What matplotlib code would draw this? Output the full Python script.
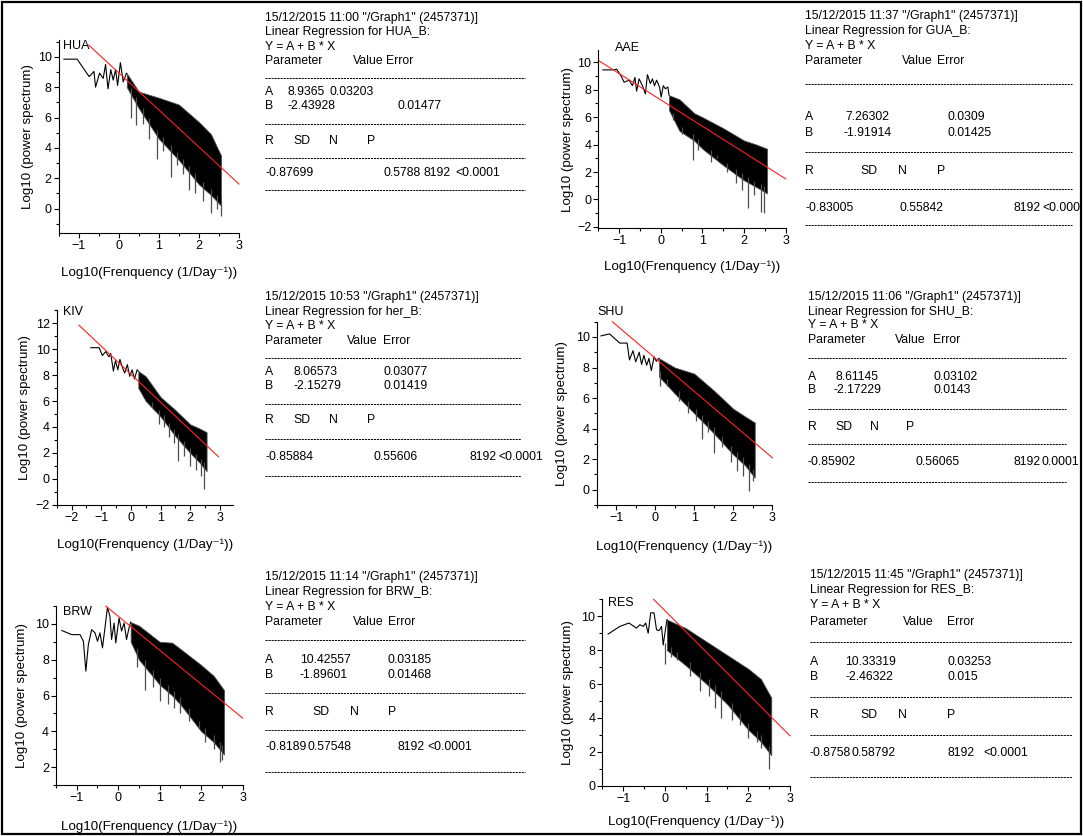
import matplotlib
matplotlib.use("Agg")
import matplotlib.pyplot as plt
import numpy as np
from matplotlib.patches import Rectangle
from matplotlib.lines import Line2D
from matplotlib.ticker import MultipleLocator

plt.rcParams["font.family"] = ["Liberation Sans", "DejaVu Sans"]

W, H = 1083, 836

# ── Data ──────────────────────────────────────────────────────────────────────
NAMES = ["HUA", "AAE", "KIV", "SHU", "BRW", "RES"]
REG_NAMES = ["HUA_B", "GUA_B", "her_B", "SHU_B", "BRW_B", "RES_B"]
TIMES = ["11:00", "11:37", "10:53", "11:06", "11:14", "11:45"]

A_VAL = ["8.9365", "7.26302", "8.06573", "8.61145", "10.42557", "10.33319"]
A_ERR = ["0.03203", "0.0309", "0.03077", "0.03102", "0.03185", "0.03253"]
B_VAL = ["-2.43928", "-1.91914", "-2.15279", "-2.17229", "-1.89601", "-2.46322"]
B_ERR = ["0.01477", "0.01425", "0.01419", "0.0143", "0.01468", "0.015"]
R_VAL = ["-0.87699", "-0.83005", "-0.85884", "-0.85902", "-0.8189", "-0.8758"]
SD_VAL = ["0.5788", "0.55842", "0.55606", "0.56065", "0.57548", "0.58792"]
N_VAL = ["8192", "8192", "8192", "8192", "8192", "8192"]
P_VAL = ["<0.0001", "<0.0001", "<0.0001", "0.0001", "<0.0001", "<0.0001"]

# x range covered by the red fit line
FIT_X0 = [-0.75, -1.5, -1.75, -1.1, -0.3, -0.27]
FIT_X1 = [3.0, 3.0, 2.95, 3.0, 3.0, 3.0]

# sparse low-frequency part of each spectrum
HUA_LX = [-1.37, -1.04, -0.74, -0.62, -0.58, -0.48, -0.39, -0.33, -0.27, -0.2, -0.14, -0.08, -0.03, 0.04, 0.11, 0.19]
HUA_LY = [9.84, 9.84, 8.69, 9.03, 8.0, 8.92, 8.57, 9.49, 7.89, 9.15, 8.46, 9.15, 8.11, 9.61, 8.34, 8.92]
AAE_LX = [-1.39, -1.12, -1.06, -0.96, -0.88, -0.76, -0.68, -0.62, -0.58, -0.52, -0.44, -0.37, -0.32, -0.25, -0.2, -0.15, -0.1, -0.03, 0.01, 0.06, 0.11, 0.17]
AAE_LY = [9.45, 9.45, 9.5, 9.05, 8.55, 8.7, 8.3, 8.9, 7.9, 8.8, 8.3, 7.7, 9.1, 8.45, 8.8, 8.3, 8.7, 8.2, 7.47, 8.3, 8.07, 8.2]
KIV_LX = [-1.35, -1.07, -0.96, -0.85, -0.74, -0.68, -0.59, -0.52, -0.44, -0.37, -0.29, -0.21, -0.12, -0.04, 0.04, 0.12, 0.21]
KIV_LY = [10.1, 10.1, 9.5, 9.8, 9.4, 9.65, 8.3, 9.1, 8.4, 9.2, 8.6, 8.15, 8.8, 7.9, 8.4, 7.7, 8.4]
SHU_LX = [-1.39, -1.17, -0.91, -0.72, -0.66, -0.57, -0.5, -0.41, -0.35, -0.29, -0.22, -0.16, -0.1, -0.03, 0.03, 0.09]
SHU_LY = [10.07, 10.2, 9.6, 9.6, 8.5, 9.1, 8.37, 9.0, 8.2, 8.8, 8.15, 8.6, 7.8, 8.7, 8.4, 8.6]
BRW_LX = [-1.36, -1.12, -0.92, -0.84, -0.78, -0.72, -0.64, -0.56, -0.5, -0.44, -0.38, -0.32, -0.26, -0.2, -0.16, -0.1, -0.06, 0.02, 0.08, 0.14, 0.2, 0.26]
BRW_LY = [9.63, 9.4, 9.4, 9.03, 7.36, 8.85, 9.68, 9.5, 9.03, 9.5, 8.66, 9.78, 10.93, 10.43, 9.13, 10.05, 8.94, 10.33, 9.6, 10.05, 9.13, 9.78]
RES_LX = [-1.36, -1.08, -0.86, -0.68, -0.6, -0.52, -0.46, -0.4, -0.34, -0.26, -0.2, -0.14, -0.08, -0.04, 0.02]
RES_LY = [8.95, 9.4, 9.6, 9.3, 9.5, 9.4, 9.6, 9.0, 10.2, 10.2, 9.2, 9.15, 9.4, 8.3, 9.3]

# dense high-frequency part: upper / lower edge of the black band
HUA_BX = [0.2, 0.5, 1.0, 1.5, 2.0, 2.3, 2.55]
HUA_HI = [8.9, 7.7, 7.3, 6.85, 5.7, 4.9, 3.5]
HUA_LO = [8.0, 6.6, 4.6, 3.2, 1.6, 0.9, 0.2]
AAE_BX = [0.2, 0.45, 0.8, 1.0, 1.5, 2.0, 2.3, 2.55]
AAE_HI = [7.6, 7.3, 6.3, 6.0, 5.2, 4.3, 4.0, 3.7]
AAE_LO = [6.5, 5.0, 4.3, 3.7, 2.5, 1.4, 0.9, 0.45]
KIV_BX = [0.25, 0.5, 1.0, 1.5, 2.0, 2.3, 2.55]
KIV_HI = [8.3, 7.9, 6.3, 5.3, 4.2, 3.9, 3.6]
KIV_LO = [7.0, 6.0, 4.8, 3.3, 2.0, 1.3, 0.6]
SHU_BX = [0.1, 0.5, 1.0, 1.5, 2.0, 2.3, 2.55]
SHU_HI = [8.6, 8.0, 7.6, 6.5, 5.3, 4.8, 4.4]
SHU_LO = [7.4, 6.3, 5.0, 3.7, 2.3, 1.6, 0.8]
BRW_BX = [0.3, 0.5, 1.0, 1.3, 1.5, 2.0, 2.3, 2.55]
BRW_HI = [10.1, 9.9, 9.0, 8.95, 8.6, 7.7, 7.1, 6.3]
BRW_LO = [9.0, 8.0, 6.6, 6.0, 5.5, 4.0, 3.4, 2.7]
RES_BX = [0.05, 0.5, 1.0, 1.5, 2.0, 2.3, 2.55]
RES_HI = [9.8, 9.3, 8.5, 7.7, 6.9, 6.3, 5.2]
RES_LO = [8.0, 7.1, 6.0, 4.8, 3.3, 2.6, 1.8]

# downward spikes below the band (x, y of spike tip)
HUA_SPX = [0.3, 0.42, 0.6, 0.75, 0.95, 1.1, 1.3, 1.45, 1.6, 1.75, 1.9, 2.1, 2.3, 2.45, 2.55]
HUA_SPY = [6.0, 5.5, 5.6, 4.6, 3.3, 3.8, 2.1, 2.9, 2.3, 1.2, 1.0, 0.5, -0.3, 0.0, -0.5]
AAE_SPX = [0.3, 0.5, 0.78, 0.9, 1.2, 1.35, 1.6, 1.8, 1.95, 2.1, 2.25, 2.4, 2.47]
AAE_SPY = [5.8, 4.8, 2.9, 3.6, 2.7, 3.0, 2.0, 1.2, 0.7, -0.65, 0.3, -0.9, -1.0]
KIV_SPX = [0.52, 0.7, 0.95, 1.1, 1.3, 1.45, 1.6, 1.8, 2.0, 2.2, 2.35, 2.45]
KIV_SPY = [6.4, 5.5, 4.2, 4.0, 3.2, 2.8, 1.4, 1.8, 1.0, 0.7, 0.2, -0.8]
SHU_SPX = [0.12, 0.3, 0.6, 0.85, 1.05, 1.2, 1.35, 1.5, 1.7, 1.95, 2.1, 2.25, 2.4, 2.5]
SHU_SPY = [6.8, 6.8, 5.8, 5.0, 4.5, 3.3, 3.8, 2.4, 2.8, 1.8, 1.2, 0.9, -0.1, 0.6]
BRW_SPX = [0.45, 0.65, 0.85, 1.0, 1.2, 1.35, 1.5, 1.7, 1.95, 2.1, 2.3, 2.45, 2.5]
BRW_SPY = [7.6, 6.3, 6.5, 5.7, 5.5, 5.3, 5.0, 4.6, 4.2, 3.4, 3.0, 2.3, 2.4]
RES_SPX = [0.0, 0.15, 0.3, 0.6, 0.85, 1.05, 1.2, 1.35, 1.6, 1.8, 2.0, 2.2, 2.3, 2.5]
RES_SPY = [7.2, 7.6, 7.4, 6.5, 5.6, 5.3, 4.6, 4.0, 3.9, 3.6, 2.8, 2.6, 2.2, 1.0]

SPECTRA = [
    (HUA_LX, HUA_LY, HUA_BX, HUA_HI, HUA_LO, HUA_SPX, HUA_SPY),
    (AAE_LX, AAE_LY, AAE_BX, AAE_HI, AAE_LO, AAE_SPX, AAE_SPY),
    (KIV_LX, KIV_LY, KIV_BX, KIV_HI, KIV_LO, KIV_SPX, KIV_SPY),
    (SHU_LX, SHU_LY, SHU_BX, SHU_HI, SHU_LO, SHU_SPX, SHU_SPY),
    (BRW_LX, BRW_LY, BRW_BX, BRW_HI, BRW_LO, BRW_SPX, BRW_SPY),
    (RES_LX, RES_LY, RES_BX, RES_HI, RES_LO, RES_SPX, RES_SPY),
]

# ── Layout (pixel positions) ──────────────────────────────────────────────────
# axes box: left, top, right, bottom
AX_BOX = [(58.7, 40, 239, 233), (598.3, 50, 785.7, 228.3),
          (56.7, 310, 233.3, 505), (596.7, 321.7, 772.3, 505),
          (56, 606, 242.7, 785), (602.3, 599.3, 790, 785.7)]
XLIMS = [(-1.5, 3), (-1.5, 3), (-2.5, 3.45), (-1.5, 3), (-1.5, 3), (-1.5, 3)]
YLIMS = [(-1.6, 11.1), (-2.1, 10.9), (-2, 13), (-1, 11), (1, 11), (0, 11)]
NAME_POS = [(63, 46), (615, 48), (63, 312), (597, 312), (63, 612), (608, 603)]
YLAB_X = [28, 568, 25, 562, 22, 568]
XLAB_DY = [40, 38, 40, 42, 42, 36]

# text block: left x, row y's, dash length, column offsets
BLK_X = [265, 805, 265, 808, 265, 810]
BLK_Y = [
    [18, 32.5, 46.5, 60.5, 78, 92, 106, 124, 141, 158, 173, 190],
    [16, 31, 46, 61, 84, 117, 133, 152, 171, 189, 208, 225],
    [296.7, 311.7, 326, 340.7, 358, 371.7, 386, 404, 420, 439, 456.7, 476],
    [296.7, 311.7, 325, 340, 358, 376.7, 390, 409, 426.7, 444, 461.7, 481.7],
    [576.7, 591.7, 606.7, 621.7, 640, 660, 675, 693.3, 711.7, 730, 746.7, 771.7],
    [575, 590, 605, 621.7, 641.7, 661.7, 676.7, 696.7, 715, 735, 753.3, 776.7],
]
BLK_W = [260, 267, 256, 258, 260, 262]
COLS = [
    dict(val=88, err=121, av=23, ae=64, bv=23, be=132, sd=28, n=64, p=102, lsd=118, ln=159, lp=190),
    dict(val=97, err=132, av=40, ae=142, bv=38, be=142, sd=55, n=93, p=132, lsd=95, ln=208, lp=237),
    dict(val=82, err=118, av=28, ae=118, bv=28, be=118, sd=28, n=64, p=102, lsd=108, ln=205, lp=233),
    dict(val=87, err=125, av=27, ae=125, bv=25, be=125, sd=27, n=62, p=98, lsd=107, ln=205, lp=234),
    dict(val=88, err=123, av=35, ae=123, bv=35, be=123, sd=47, n=85, p=123, lsd=42, ln=133, lp=162),
    dict(val=93, err=137, av=35, ae=137, bv=35, be=137, sd=50, n=88, p=137, lsd=42, ln=137, lp=173),
]

TXT = 8.8
TICK = 9.0
LAB = 9.6


def fx(px):
    return px / W


def fy(py):
    return 1 - py / H


fig = plt.figure(figsize=(W / 100, H / 100), dpi=100)
fig.patch.set_facecolor("white")

border = Rectangle((fx(2), fy(834)), fx(1079), 832 / H, transform=fig.transFigure,
                   fill=False, lw=1.6, edgecolor="black", zorder=10)
fig.add_artist(border)

for i in range(6):
    l, t, r, b = AX_BOX[i]
    ax = fig.add_axes([fx(l), fy(b), (r - l) / W, (b - t) / H])
    lx, ly, bx, hi, lo, spx, spy = SPECTRA[i]

    # spectrum: sparse line, dense band, spikes hanging below the band
    ax.plot(lx + [bx[0]], ly + [hi[0]], color="black", lw=0.8)
    ax.fill_between(bx, lo, hi, color="black", lw=0.6, edgecolor="0.3")
    tops = np.interp(spx, bx, lo) + 0.4
    ax.vlines(spx, spy, tops, color="0.3", lw=0.9)

    # linear fit
    a, bb = float(A_VAL[i]), float(B_VAL[i])
    ax.plot([FIT_X0[i], FIT_X1[i]], [a + bb * FIT_X0[i], a + bb * FIT_X1[i]],
            color="#ff2020", lw=0.8, clip_on=False)

    ax.set_xlim(*XLIMS[i])
    ax.set_ylim(*YLIMS[i])
    ax.xaxis.set_major_locator(MultipleLocator(1))
    ax.xaxis.set_minor_locator(MultipleLocator(0.5))
    ax.yaxis.set_major_locator(MultipleLocator(2))
    ax.yaxis.set_minor_locator(MultipleLocator(1))
    for s in ("top", "right"):
        ax.spines[s].set_visible(False)
    for s in ("left", "bottom"):
        ax.spines[s].set_linewidth(0.8)
    ax.tick_params(which="major", direction="out", length=3.5, width=0.8,
                   labelsize=TICK, pad=1.5)
    ax.tick_params(which="minor", direction="out", length=2, width=0.8)
    ax.patch.set_alpha(0)

    nx, ny = NAME_POS[i]
    fig.text(fx(nx), fy(ny), NAMES[i], fontsize=TICK, va="center", ha="left")
    fig.text(fx(YLAB_X[i]), fy((t + b) / 2), "Log10 (power spectrum)",
             fontsize=LAB, rotation=90, ha="center", va="center")
    fig.text(fx((l + r) / 2), fy(b + XLAB_DY[i]),
             "Log10(Frenquency (1/Day\u207b\u00b9))", fontsize=LAB,
             ha="center", va="center")

    # regression report
    x0 = BLK_X[i]
    ys = BLK_Y[i]
    c = COLS[i]
    rows = [
        [(0, f'15/12/2015 {TIMES[i]} "/Graph1" (2457371)]')],
        [(0, f"Linear Regression for {REG_NAMES[i]}:")],
        [(0, "Y = A + B * X")],
        [(0, "Parameter"), (c["val"], "Value"), (c["err"], "Error")],
        None,
        [(0, "A"), (c["av"], A_VAL[i]), (c["ae"], A_ERR[i])],
        [(0, "B"), (c["bv"], B_VAL[i]), (c["be"], B_ERR[i])],
        None,
        [(0, "R"), (c["sd"], "SD"), (c["n"], "N"), (c["p"], "P")],
        None,
        [(0, R_VAL[i]), (c["lsd"], SD_VAL[i]), (c["ln"], N_VAL[i]), (c["lp"], P_VAL[i])],
        None,
    ]
    for y, row in zip(ys, rows):
        if row is None:
            fig.add_artist(Line2D([fx(x0), fx(x0 + BLK_W[i])], [fy(y), fy(y)],
                                  transform=fig.transFigure, color="black",
                                  lw=0.7, linestyle=(0, (2.2, 0.9))))
            continue
        for dx, s in row:
            tt = fig.text(fx(x0 + dx), fy(y), s, fontsize=TXT, ha="left", va="center")
            tt.set_clip_path(border)

fig.savefig("out.png", dpi=100, facecolor="white")
